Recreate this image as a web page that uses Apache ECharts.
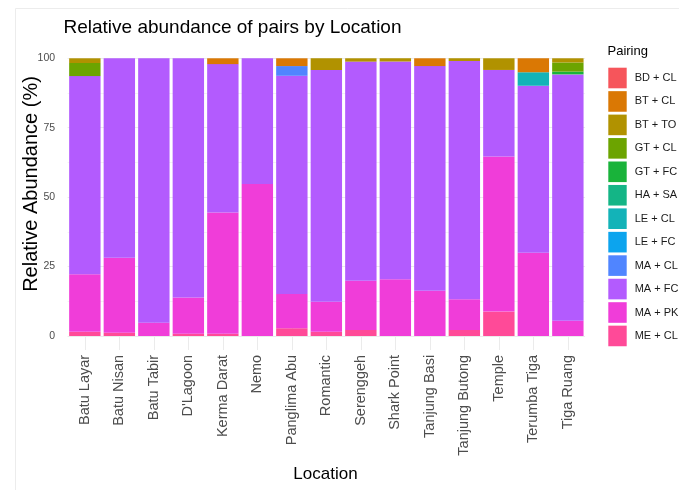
<!DOCTYPE html>
<html>
<head>
<meta charset="utf-8">
<script src="https://cdn.jsdelivr.net/npm/echarts@6/dist/echarts.min.js"></script>
<style>
  html, body { margin: 0; padding: 0; background: #fff; }
  #chart { width: 679px; height: 490px; }
</style>
</head>
<body>
<div id="chart"></div>
<script>
// locations on the x axis
var locations = ['Batu Layar', 'Batu Nisan', 'Batu Tabir', "D'Lagoon", 'Kerma Darat', 'Nemo',
  'Panglima Abu', 'Romantic', 'Serenggeh', 'Shark Point', 'Tanjung Basi', 'Tanjung Butong',
  'Temple', 'Terumba Tiga', 'Tiga Ruang'];

// relative abundance (%) per pairing, one value per location
var bdCl = [0, 0, 0, 0, 0, 0, 0, 0, 0, 0, 0, 0, 0, 0, 0];
var btCl = [0, 0, 0, 0, 2.1, 0, 2.8, 0, 0, 0, 2.8, 0, 0, 5.0, 0];
var btTo = [1.7, 0, 0, 0, 0, 0, 0, 4.2, 1.2, 1.2, 0, 1.0, 4.2, 0, 1.5];
var gtCl = [4.7, 0, 0, 0, 0, 0, 0, 0, 0, 0, 0, 0, 0, 0, 3.3];
var gtFc = [0, 0, 0, 0, 0, 0, 0, 0, 0, 0, 0, 0, 0, 0, 1.0];
var haSa = [0, 0, 0, 0, 0, 0, 0, 0, 0, 0, 0, 0, 0, 0, 0];
var leCl = [0, 0, 0, 0, 0, 0, 0, 0, 0, 0, 0, 0, 0, 4.9, 0];
var leFc = [0, 0, 0, 0, 0, 0, 0, 0, 0, 0, 0, 0, 0, 0, 0];
var maCl = [0, 0, 0, 0, 0, 0, 3.5, 0, 0, 0, 0, 0, 0, 0, 0];
var maFc = [71.4, 71.8, 95.2, 86.1, 53.4, 45.3, 78.6, 83.5, 78.9, 78.4, 80.9, 85.8, 31.2, 60.1, 88.7];
var maPk = [20.7, 27.0, 4.8, 13.1, 43.7, 54.7, 12.3, 10.8, 17.7, 20.4, 16.3, 11.0, 55.8, 30.0, 5.5];
var meCl = [1.5, 1.2, 0, 0.8, 0.8, 0, 2.8, 1.5, 2.2, 0, 0, 2.2, 8.8, 0, 0];

var yTicks = [0, 25, 50, 75, 100];
var yMinor = [12.5, 37.5, 62.5, 87.5];

// legend order (top of stack first)
var pairings = [
  { name: 'BD + CL', data: bdCl, color: '#F6555B' },
  { name: 'BT + CL', data: btCl, color: '#DA7804' },
  { name: 'BT + TO', data: btTo, color: '#B19200' },
  { name: 'GT + CL', data: gtCl, color: '#6CA400' },
  { name: 'GT + FC', data: gtFc, color: '#19B33A' },
  { name: 'HA + SA', data: haSa, color: '#14B586' },
  { name: 'LE + CL', data: leCl, color: '#13B3B8' },
  { name: 'LE + FC', data: leFc, color: '#0CA4EE' },
  { name: 'MA + CL', data: maCl, color: '#5085FF' },
  { name: 'MA + FC', data: maFc, color: '#B35BFE' },
  { name: 'MA + PK', data: maPk, color: '#F03DD9' },
  { name: 'ME + CL', data: meCl, color: '#FF4A98' }
];

var font = 'Liberation Sans, Arial, Helvetica, sans-serif';

// echarts stacks the first series at the bottom, so go in reverse
var series = [];
for (var i = pairings.length - 1; i >= 0; i--) {
  series.push({
    name: pairings[i].name,
    type: 'bar',
    stack: 'total',
    barCategoryGap: '9%',
    itemStyle: { color: pairings[i].color },
    emphasis: { disabled: true },
    data: pairings[i].data
  });
}

var gridTick = { show: true, inside: true, alignWithLabel: true, length: 14, interval: 0,
  lineStyle: { color: '#ebebeb', width: 1 } };

var chart = echarts.init(document.getElementById('chart'));
chart.setOption({
  animation: false,
  backgroundColor: '#fff',
  textStyle: { fontFamily: font },
  title: [{
    text: 'Relative abundance of pairs by Location',
    left: 63.5, top: 18, padding: 0,
    textStyle: { fontSize: 19, fontWeight: 'normal', color: '#000', fontFamily: font }
  }, {
    text: 'Pairing',
    left: 607.5, top: 45, padding: 0,
    textStyle: { fontSize: 13, fontWeight: 'normal', color: '#000', fontFamily: font }
  }],
  legend: {
    orient: 'vertical',
    left: 608.3, top: 67.7, padding: 0,
    itemWidth: 18.4, itemHeight: 20.6, itemGap: 2.85,
    icon: 'rect',
    data: pairings.map(function (p) { return p.name; }),
    textStyle: { fontSize: 11, color: '#1a1a1a', padding: [0, 0, 0, 3], fontFamily: font }
  },
  grid: { left: 67.6, width: 517.5, top: 44.4, bottom: 140.1, containLabel: false },
  xAxis: [{
    type: 'category',
    data: locations,
    axisLine: { show: false },
    axisTick: gridTick,
    splitLine: { show: false },
    axisLabel: { rotate: 90, margin: 5, interval: 0, fontSize: 14.5, color: '#4d4d4d', fontFamily: font }
  }, {
    type: 'category',
    position: 'top',
    data: locations,
    axisLine: { show: false },
    axisTick: gridTick,
    axisLabel: { show: false }
  }],
  yAxis: [{
    type: 'value',
    min: -5, max: 105,
    axisLine: { show: false },
    axisTick: { show: false, customValues: yTicks },
    axisLabel: { customValues: yTicks, margin: 12.5, fontSize: 10.5, color: '#4d4d4d', fontFamily: font },
    splitLine: { show: true, lineStyle: { color: '#ebebeb', width: 1 } }
  }, {
    type: 'value',
    min: -5, max: 105,
    position: 'left',
    axisLine: { show: false },
    axisTick: { show: false, customValues: yMinor },
    axisLabel: { show: false, customValues: yMinor },
    splitLine: { show: true, lineStyle: { color: '#f3f3f3', width: 1 } }
  }],
  graphic: [{
    type: 'rect',
    shape: { x: 15.5, y: 8.5, width: 700, height: 500 },
    style: { fill: 'none', stroke: '#ececec', lineWidth: 1 },
    silent: true, z: -10
  }, {
    type: 'text',
    x: 31, y: 184,
    rotation: Math.PI / 2,
    style: { text: 'Relative Abundance (%)', fontSize: 20, fontFamily: font, fill: '#000',
      align: 'center', verticalAlign: 'middle' }
  }, {
    type: 'text',
    x: 325.5, y: 474,
    style: { text: 'Location', fontSize: 17, fontFamily: font, fill: '#000',
      align: 'center', verticalAlign: 'middle' }
  }],
  series: series
});
</script>
</body>
</html>
